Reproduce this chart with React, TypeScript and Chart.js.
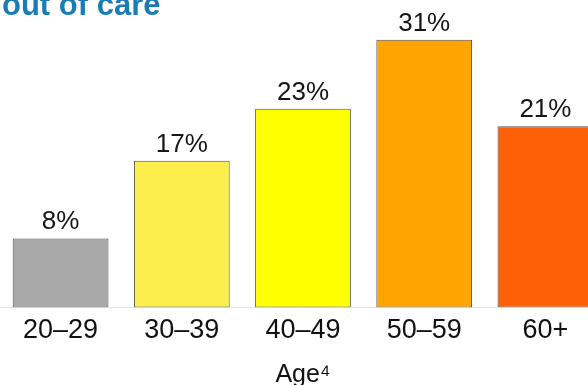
import React, { useEffect, useRef } from "react";
import { Chart, registerables } from "chart.js";

Chart.register(...registerables);

const categories = ["20–29", "30–39", "40–49", "50–59", "60+"];
const values = [8, 17, 23, 31, 21];
const valueLabels = ["8%", "17%", "23%", "31%", "21%"];
const barColors = ["#a9a9a9", "#fcee4c", "#ffff00", "#fea500", "#fd6006"];
const titleText = "out of care";
const axisTitle = "Age⁴";

const FONT = "'Liberation Sans', Arial, Helvetica, sans-serif";

const valueLabelPlugin = {
  id: "valueLabels",
  afterDatasetsDraw(chart: any) {
    const { ctx } = chart;
    const meta = chart.getDatasetMeta(0);
    ctx.save();
    ctx.font = `26px ${FONT}`;
    ctx.fillStyle = "#161616";
    ctx.textAlign = "center";
    ctx.textBaseline = "alphabetic";
    meta.data.forEach((bar: any, i: number) => {
      ctx.fillText(valueLabels[i], bar.x, bar.y - 9);
    });
    ctx.restore();
  },
};

export default function App() {
  const canvasRef = useRef<HTMLCanvasElement>(null);

  useEffect(() => {
    const canvas = canvasRef.current;
    if (!canvas) return;
    const chart = new Chart(canvas, {
      type: "bar",
      data: {
        labels: categories,
        datasets: [
          {
            data: values,
            backgroundColor: barColors,
            borderColor: "#505050",
            borderWidth: 1,
            borderSkipped: false,
            categoryPercentage: 1,
            barPercentage: 0.79,
          },
        ],
      },
      options: {
        responsive: false,
        animation: false,
        devicePixelRatio: 1,
        layout: { padding: 0 },
        plugins: {
          legend: { display: false },
          tooltip: { enabled: false },
          title: { display: false },
        },
        scales: {
          y: {
            display: false,
            min: 0,
            max: 35.6,
          },
          x: {
            grid: { display: false, drawTicks: false },
            border: { display: true, color: "#e4e4e4", width: 1 },
            ticks: {
              color: "#111",
              font: { family: FONT, size: 27 },
              padding: 7,
            },
            title: {
              display: true,
              text: axisTitle,
              color: "#111",
              font: { family: FONT, size: 25 },
              padding: { top: 6, bottom: 0 },
            },
          },
        },
      },
      plugins: [valueLabelPlugin],
    });
    return () => chart.destroy();
  }, []);

  return (
    <div
      style={{
        position: "fixed",
        left: 0,
        top: 0,
        width: 588,
        height: 385,
        overflow: "hidden",
        background: "#ffffff",
      }}
    >
      <canvas
        ref={canvasRef}
        width={606}
        height={390}
        style={{ position: "absolute", left: 0, top: 0, width: 606, height: 390 }}
      />
      <div
        style={{
          position: "absolute",
          left: 2,
          top: -11,
          fontFamily: FONT,
          fontWeight: "bold",
          fontSize: 31,
          lineHeight: "31px",
          color: "#1b7bb6",
          whiteSpace: "nowrap",
        }}
      >
        {titleText}
      </div>
    </div>
  );
}
